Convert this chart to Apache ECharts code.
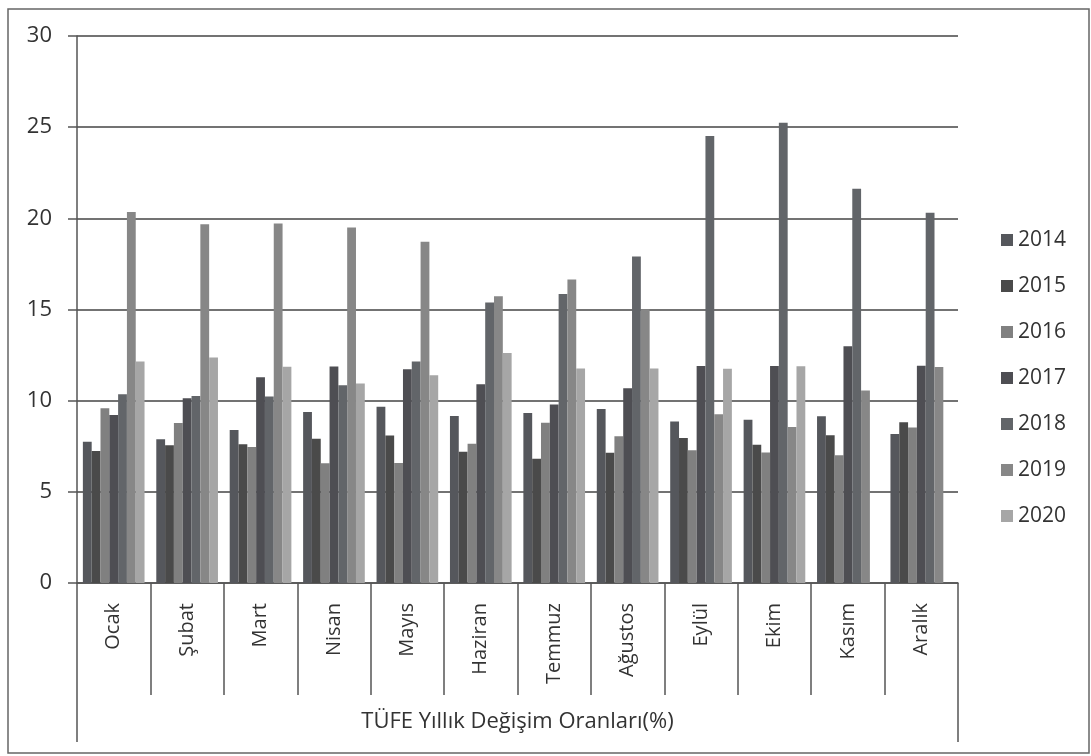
<!DOCTYPE html>
<html>
<head>
<meta charset="utf-8">
<script src="https://cdn.jsdelivr.net/npm/echarts@6/dist/echarts.min.js"></script>
<style>html,body{margin:0;padding:0;background:#fff}#c{width:1091px;height:756px}</style>
</head>
<body>
<div id="c"></div>
<script>
var months = ['Ocak','Şubat','Mart','Nisan','Mayıs','Haziran','Temmuz','Ağustos','Eylül','Ekim','Kasım','Aralık'];
var groupLabel = ['TÜFE Yıllık Değişim Oranları(%)'];
var years = ['2014','2015','2016','2017','2018','2019','2020'];
var v2014 = [7.75, 7.89, 8.39, 9.38, 9.66, 9.16, 9.32, 9.54, 8.86, 8.96, 9.15, 8.17];
var v2015 = [7.24, 7.55, 7.61, 7.91, 8.09, 7.20, 6.81, 7.14, 7.95, 7.58, 8.10, 8.81];
var v2016 = [9.58, 8.78, 7.46, 6.57, 6.58, 7.64, 8.79, 8.05, 7.28, 7.16, 7.00, 8.53];
var v2017 = [9.22, 10.13, 11.29, 11.87, 11.72, 10.90, 9.79, 10.68, 11.90, 11.90, 12.98, 11.92];
var v2018 = [10.35, 10.26, 10.23, 10.85, 12.15, 15.39, 15.85, 17.90, 24.52, 25.24, 21.62, 20.30];
var v2019 = [20.35, 19.67, 19.71, 19.50, 18.71, 15.72, 16.65, 15.01, 9.26, 8.55, 10.56, 11.84];
var v2020 = [12.15, 12.37, 11.86, 10.94, 11.39, 12.62, 11.76, 11.77, 11.75, 11.89, null, null];
var yTicks = [0, 5, 10, 15, 20, 25, 30];

var seriesValues = [v2014, v2015, v2016, v2017, v2018, v2019, v2020];
var colors = ['#55575c', '#4a4a4a', '#808080', '#4e4e53', '#626569', '#878787', '#a6a6a6'];

var chart = echarts.init(document.getElementById('c'));
var font = 'Open Sans';
chart.setOption({
  animation: false,
  color: colors,
  grid: {left: 77, right: 133, top: 36, bottom: 173, containLabel: false},
  legend: {
    orient: 'vertical', left: 996, top: 224, itemGap: 24,
    itemWidth: 12, itemHeight: 12, icon: 'rect',
    textStyle: {fontSize: 21, lineHeight: 22, color: '#333', fontFamily: font},
    data: years
  },
  xAxis: [{
    type: 'category', data: months, position: 'bottom',
    axisLine: {show: true, lineStyle: {color: '#555', width: 1.5}},
    axisTick: {show: true, interval: 0, length: 112, lineStyle: {color: '#555', width: 1.5}},
    axisLabel: {interval: 0, rotate: 90, margin: 20, fontSize: 20, color: '#333', fontFamily: font}
  }, {
    type: 'category', data: groupLabel, position: 'bottom',
    axisLine: {show: false},
    axisTick: {show: true, length: 159, lineStyle: {color: '#555', width: 1.5}},
    axisLabel: {margin: 128, fontSize: 22, color: '#333', fontFamily: font}
  }],
  yAxis: {
    type: 'value', min: yTicks[0], max: yTicks[yTicks.length - 1], interval: 5,
    axisLine: {show: true, lineStyle: {color: '#555', width: 1.5}},
    axisTick: {show: true, length: 9, lineStyle: {color: '#555', width: 1.5}},
    splitLine: {show: true, lineStyle: {color: '#444', width: 1.5}},
    axisLabel: {fontSize: 22, color: '#333', margin: 25, fontFamily: font}
  },
  series: years.map(function (y, i) {
    return {
      name: y, type: 'bar', xAxisIndex: 0, data: seriesValues[i],
      barGap: '0%', barCategoryGap: '16%'
    };
  }),
  graphic: [{
    type: 'rect', shape: {x: 8, y: 9, width: 1081, height: 744},
    style: {fill: 'none', stroke: '#666', lineWidth: 1.5}, silent: true
  }]
});
</script>
</body>
</html>
